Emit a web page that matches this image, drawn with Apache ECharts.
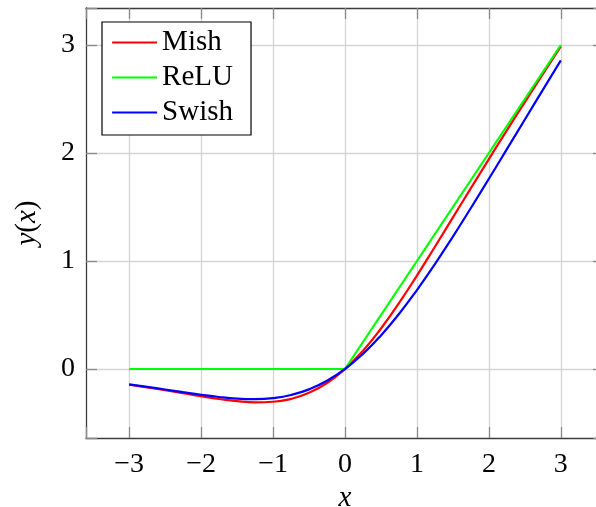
<!DOCTYPE html>
<html>
<head>
<meta charset="utf-8">
<script src="https://cdn.jsdelivr.net/npm/echarts@6/dist/echarts.min.js"></script>
<style>
html,body{margin:0;padding:0;background:#fff;}
#chart{width:596px;height:507px;}
</style>
</head>
<body>
<div id="chart"></div>
<script>
// x sample positions
const xs = [-3,-2.75,-2.5,-2.25,-2,-1.75,-1.5,-1.25,-1,-0.75,-0.5,-0.25,0,0.25,0.5,0.75,1,1.25,1.5,1.75,2,2.25,2.5,2.75,3];
// Mish values
const mish = [-0.1456,-0.1702,-0.1968,-0.2247,-0.2525,-0.2780,-0.2981,-0.3084,-0.3034,-0.2765,-0.2207,-0.1299,0,0.1696,0.3752,0.6100,0.8651,1.1319,1.4034,1.6749,1.9440,2.2095,2.4714,2.7302,2.9865];
// Swish values
const swish = [-0.1423,-0.1652,-0.1896,-0.2145,-0.2384,-0.2591,-0.2736,-0.2784,-0.2689,-0.2406,-0.1888,-0.1095,0,0.1405,0.3112,0.5094,0.7311,0.9716,1.2264,1.4909,1.7616,2.0355,2.3104,2.5848,2.8577];
// ReLU corner points
const reluX = [-3, 0, 3];
const reluY = [0, 0, 3];
const seriesNames = ['Mish', 'ReLU', 'Swish'];

const FONT = 'Liberation Serif';
const fmt = v => (Math.abs(v - Math.round(v)) < 1e-6) ? String(Math.round(v)).replace('-', '\u2212') : '';

const chart = echarts.init(document.getElementById('chart'), null, {renderer: 'canvas'});
const axisLineStyle = {color: '#3c3c3c', width: 1.3};
const tickStyle = {show: true, inside: true, length: 11, lineStyle: {color: '#8a8a8a', width: 1.3}};
const gridLine = {show: true, showMinLine: false, showMaxLine: false, lineStyle: {color: '#d4d4d4', width: 1.3}};

chart.setOption({
  animation: false,
  backgroundColor: '#fff',
  grid: {left: 86, top: 8, width: 518, height: 430, containLabel: false, outerBoundsMode: 'none'},
  legend: {
    orient: 'vertical',
    left: 102, top: 22,
    data: seriesNames,
    backgroundColor: '#fff',
    borderColor: '#000', borderWidth: 1.2,
    padding: [5, 18, 7, 9],
    itemWidth: 45, itemHeight: 14, itemGap: 4,
    itemStyle: {opacity: 0},
    lineStyle: {width: 2.2},
    textStyle: {fontFamily: FONT, fontSize: 29, color: '#000', lineHeight: 31}
  },
  xAxis: [{
    type: 'value', min: -3.6, max: 3.6, minInterval: 1, maxInterval: 1,
    name: '{i|x}', nameLocation: 'middle', nameGap: 44,
    nameTextStyle: {rich: {i: {fontFamily: FONT, fontStyle: 'italic', fontSize: 29, color: '#000'}}},
    axisLine: {show: true, onZero: false, lineStyle: axisLineStyle},
    axisTick: tickStyle,
    axisLabel: {formatter: fmt, fontFamily: FONT, fontSize: 28, color: '#000', margin: 13},
    splitLine: gridLine
  }, {
    type: 'value', min: -3.6, max: 3.6, minInterval: 1, maxInterval: 1, position: 'top',
    axisLine: {show: true, onZero: false, lineStyle: axisLineStyle},
    axisTick: tickStyle, axisLabel: {show: false}, splitLine: {show: false}
  }],
  yAxis: [{
    type: 'value', min: -0.6389, max: 3.3426, minInterval: 1, maxInterval: 1,
    name: '{i|y}({i|x})', nameLocation: 'middle', nameGap: 44,
    nameTextStyle: {fontFamily: FONT, fontSize: 29, color: '#000', rich: {i: {fontFamily: FONT, fontStyle: 'italic', fontSize: 29, color: '#000'}}},
    axisLine: {show: true, onZero: false, lineStyle: axisLineStyle},
    axisTick: tickStyle,
    axisLabel: {formatter: fmt, fontFamily: FONT, fontSize: 28, color: '#000', margin: 11},
    splitLine: gridLine
  }, {
    type: 'value', min: -0.6389, max: 3.3426, minInterval: 1, maxInterval: 1, position: 'right',
    axisLine: {show: true, onZero: false, lineStyle: axisLineStyle},
    axisTick: tickStyle, axisLabel: {show: false}, splitLine: {show: false}
  }],
  series: [
    {name: 'Mish', type: 'line', xAxisIndex: 0, yAxisIndex: 0, smooth: true, symbol: 'none',
     data: xs.map((x, i) => [x, mish[i]]), lineStyle: {color: '#ff0000', width: 2.2}, itemStyle: {color: '#ff0000'}},
    {name: 'ReLU', type: 'line', xAxisIndex: 0, yAxisIndex: 0, symbol: 'none',
     data: reluX.map((x, i) => [x, reluY[i]]), lineStyle: {color: '#00ff00', width: 2.2}, itemStyle: {color: '#00ff00'}},
    {name: 'Swish', type: 'line', xAxisIndex: 0, yAxisIndex: 0, smooth: true, symbol: 'none',
     data: xs.map((x, i) => [x, swish[i]]), lineStyle: {color: '#0000ff', width: 2.2}, itemStyle: {color: '#0000ff'}}
  ]
});
</script>
</body>
</html>
